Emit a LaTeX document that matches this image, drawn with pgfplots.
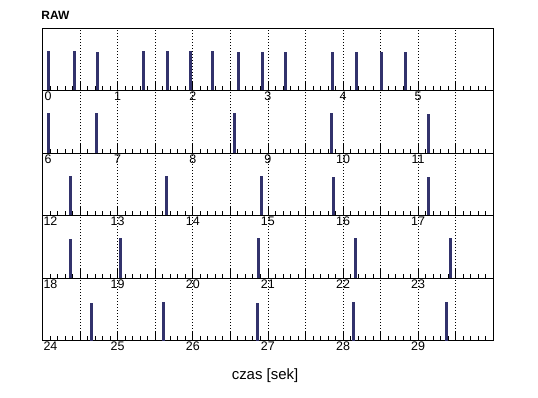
\documentclass[border=0pt]{standalone}
\usepackage{pgfplots}
\pgfplotsset{compat=1.18}
\usepackage{fontspec}
\setmainfont{Liberation Sans}
\definecolor{barc}{RGB}{50,50,108}
\pgfplotsset{rawpanel/.style={
  width=450.8bp, height=62.48bp, scale only axis, anchor=north west,
  ymin=0, ymax=1.57, ytick=\empty,
  xtick pos=bottom, tick align=inside,
  minor x tick num=4,
  major tick length=9bp, minor tick length=4.5bp,
  every tick/.style={black, line width=0.8bp},
  axis line style={black, line width=1bp},
  xmajorgrids,
  major grid style={black, dash pattern=on 0.8bp off 2.2bp, line width=0.8bp},
  xticklabel style={font=\fontsize{12.5}{14}\selectfont, anchor=north, inner sep=1bp},
  clip=false
}}
\begin{document}
\begin{tikzpicture}
\path[use as bounding box] (0,0) rectangle (538bp,398bp);
\node[anchor=west, font=\bfseries\fontsize{12}{14}\selectfont, inner sep=0] at (41.2bp,382.5bp) {RAW};
\node[anchor=center, font=\fontsize{15}{17}\selectfont, inner sep=0] at (265bp,22bp) {czas [sek]};

\begin{axis}[rawpanel, at={(42.5bp,369.7bp)}, xmin=0, xmax=6,
  xtick={0,0.5,...,6},
  xticklabels={\makebox[0pt][l]{\hspace{2bp}0},,1,,2,,3,,4,,5,,}]
\addplot[ycomb, barc, line width=3bp, mark=none] coordinates {
(0.077,1.0)(0.42,1.0)(0.727,0.967)(1.344,1.0)(1.664,1.0)(1.971,1.0)(2.264,1.0)
(2.611,0.967)(2.927,0.967)(3.233,0.967)(3.864,0.967)(4.176,0.967)(4.509,0.967)(4.833,0.967)};
\end{axis}

\begin{axis}[rawpanel, at={(42.5bp,307.22bp)}, xmin=6, xmax=12,
  xtick={6,6.5,...,12},
  xticklabels={\makebox[0pt][l]{\hspace{2bp}6},,7,,8,,9,,10,,11,,}]
\addplot[ycomb, barc, line width=3bp, mark=none] coordinates {
(6.077,1.0)(6.718,1.0)(8.557,1.0)(9.847,1.0)(11.144,0.98)};
\end{axis}

\begin{axis}[rawpanel, at={(42.5bp,244.74bp)}, xmin=12, xmax=18,
  xtick={12,12.5,...,18},
  xticklabels={\makebox[0pt][l]{\hspace{1bp}12},,13,,14,,15,,16,,17,,}]
\addplot[ycomb, barc, line width=3bp, mark=none] coordinates {
(12.371,1.0)(13.651,1.0)(14.917,1.0)(15.877,0.967)(17.131,0.967)};
\end{axis}

\begin{axis}[rawpanel, at={(42.5bp,182.26bp)}, xmin=18, xmax=24,
  xtick={18,18.5,...,24},
  xticklabels={\makebox[0pt][l]{\hspace{1bp}18},,19,,20,,21,,22,,23,,}]
\addplot[ycomb, barc, line width=3bp, mark=none] coordinates {
(18.371,0.99)(19.037,1.015)(20.877,1.015)(22.162,1.015)(23.433,1.015)};
\end{axis}

\begin{axis}[rawpanel, at={(42.5bp,119.78bp)}, xmin=24, xmax=30,
  xtick={24,24.5,...,30},
  xticklabels={\makebox[0pt][l]{\hspace{1bp}24},,25,,26,,27,,28,,29,,}]
\addplot[ycomb, barc, line width=3bp, mark=none] coordinates {
(24.651,0.94)(25.611,0.965)(26.864,0.94)(28.144,0.965)(29.371,0.965)};
\end{axis}
\end{tikzpicture}
\end{document}
